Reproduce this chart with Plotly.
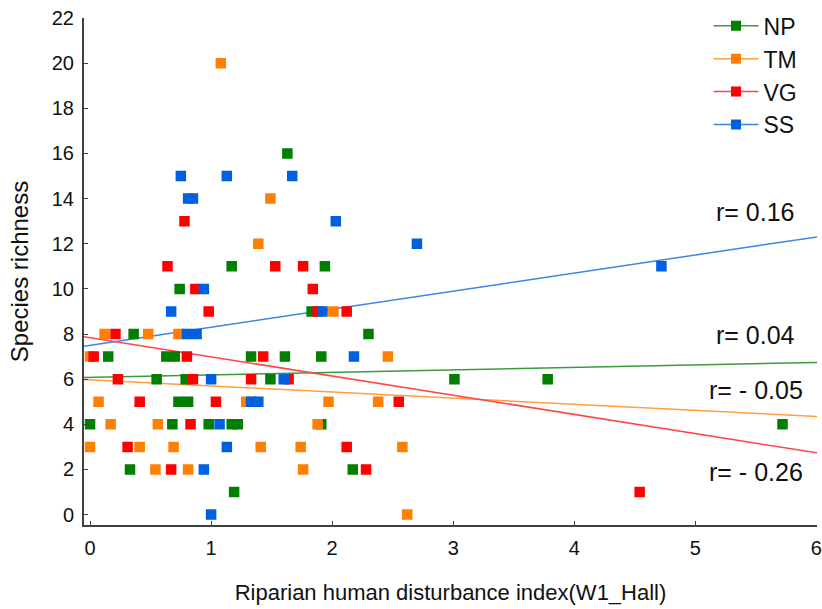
import plotly.graph_objects as go

# Species richness vs riparian disturbance index, four sites
np_x = [0.00, 0.15, 0.36, 0.63, 0.70, 0.74, 0.55, 0.79, 0.73, 0.81, 0.68, 0.98,
        1.17, 1.22, 0.33, 1.19, 1.17, 1.33, 1.49, 1.61, 1.63, 1.83, 1.91, 1.94,
        1.91, 2.17, 2.30, 3.01, 3.78, 5.72]
np_y = [4, 7, 8, 7, 7, 10, 6, 6, 5, 5, 4, 4,
        4, 4, 2, 1, 11, 7, 6, 7, 16, 9, 7, 11,
        4, 2, 8, 6, 6, 4]

tm_x = [0.00, 0.00, 0.07, 0.12, 0.17, 0.41, 0.48, 0.56, 0.54, 0.69, 0.73, 0.81,
        1.08, 1.29, 1.39, 1.41, 1.49, 1.74, 1.76, 1.88, 1.97, 2.01, 2.38, 2.46,
        2.58, 2.62]
tm_y = [7, 3, 5, 8, 4, 3, 8, 4, 2, 3, 8, 2,
        20, 5, 12, 3, 14, 3, 2, 4, 5, 9, 5, 7,
        3, 0]

vg_x = [0.03, 0.21, 0.23, 0.31, 0.41, 0.64, 0.67, 0.78, 0.80, 0.83, 0.85, 0.87,
        0.98, 1.04, 1.33, 1.43, 1.53, 1.64, 1.76, 1.84, 1.88, 2.12, 2.12, 2.28,
        2.55, 4.54]
vg_y = [7, 8, 6, 3, 5, 11, 2, 13, 7, 4, 6, 10,
        9, 5, 6, 7, 11, 6, 11, 10, 9, 9, 3, 2,
        5, 1]

ss_x = [0.67, 0.75, 0.80, 0.81, 0.85, 0.88, 0.94, 0.94, 1.00, 1.00, 1.07, 1.13,
        1.13, 1.33, 1.39, 1.60, 1.67, 1.92, 2.03, 2.18, 2.70, 4.72]
ss_y = [9, 15, 8, 14, 14, 8, 10, 2, 6, 0, 4, 3,
        15, 5, 5, 6, 15, 9, 13, 7, 12, 11]

series_names = ["NP", "TM", "VG", "SS"]
marker_colors = ["#007f00", "#ff8000", "#ff0000", "#0060e0"]
line_colors = ["#3d9a3d", "#ffa040", "#ff4545", "#3d85e8"]

# fitted lines (intercept, slope)
fit_intercept = [6.08, 5.97, 7.84, 7.50]
fit_slope = [0.11, -0.27, -0.85, 0.80]
r_labels = ["r= 0.04", "r= - 0.05", "r= - 0.26", "r= 0.16"]
r_label_y = [7.95, 5.5, 1.9, 13.4]
r_label_x = 5.5

x_range = [-0.05, 6.005]
y_range = [-0.46, 22]

xs = [np_x, tm_x, vg_x, ss_x]
ys = [np_y, tm_y, vg_y, ss_y]

fig = go.Figure()

# regression lines
for name, b, m, lc in zip(series_names, fit_intercept, fit_slope, line_colors):
    fig.add_trace(go.Scatter(
        x=x_range,
        y=[b + m * x for x in x_range],
        mode="lines",
        line=dict(color=lc, width=1.5),
        showlegend=False,
        hoverinfo="skip",
    ))

# points
for name, x, y, mc in zip(series_names, xs, ys, marker_colors):
    fig.add_trace(go.Scatter(
        x=x, y=y,
        mode="markers",
        marker=dict(symbol="square", size=9, color=mc,
                    line=dict(color=mc, width=1.5)),
        showlegend=False,
        name=name,
    ))

# legend entries (line + marker)
for name, mc, lc in zip(series_names, marker_colors, line_colors):
    fig.add_trace(go.Scatter(
        x=[None], y=[None],
        mode="lines+markers",
        name=name,
        line=dict(color=lc, width=1.5),
        marker=dict(symbol="square", size=10, color=mc),
    ))

for txt, yy in zip(r_labels, r_label_y):
    fig.add_annotation(
        x=r_label_x, y=yy, xref="x", yref="y",
        text=txt, showarrow=False,
        xanchor="center", yanchor="middle",
        font=dict(size=25, color="#111111"),
    )

axis_common = dict(
    showline=True, linecolor="#404040", linewidth=2,
    ticks="inside", ticklen=4, tickcolor="#404040",
    showgrid=False, zeroline=False, mirror=False,
    tickfont=dict(size=20, color="#111111"),
    automargin=False,
)

fig.update_layout(
    width=822, height=609,
    margin=dict(l=84, r=5, t=17, b=84),
    paper_bgcolor="white",
    plot_bgcolor="white",
    font=dict(family="Liberation Sans, Arial, sans-serif", color="#111111"),
    xaxis=dict(
        range=x_range, dtick=1, tick0=0,
        title=dict(text="Riparian human disturbance index(W1_Hall)",
                   font=dict(size=22), standoff=27),
        ticklabelstandoff=4,
        **axis_common,
    ),
    yaxis=dict(
        range=y_range, dtick=2, tick0=0,
        title=dict(text="Species richness", font=dict(size=24), standoff=16),
        ticklabelstandoff=4,
        **axis_common,
    ),
    legend=dict(
        x=0.852, y=1.025, xanchor="left", yanchor="top",
        font=dict(size=23),
        bgcolor="rgba(0,0,0,0)",
        itemwidth=45,
    ),
)

fig.write_html("out.html", config={"displayModeBar": False},
               post_script="document.body.style.margin='0';")
